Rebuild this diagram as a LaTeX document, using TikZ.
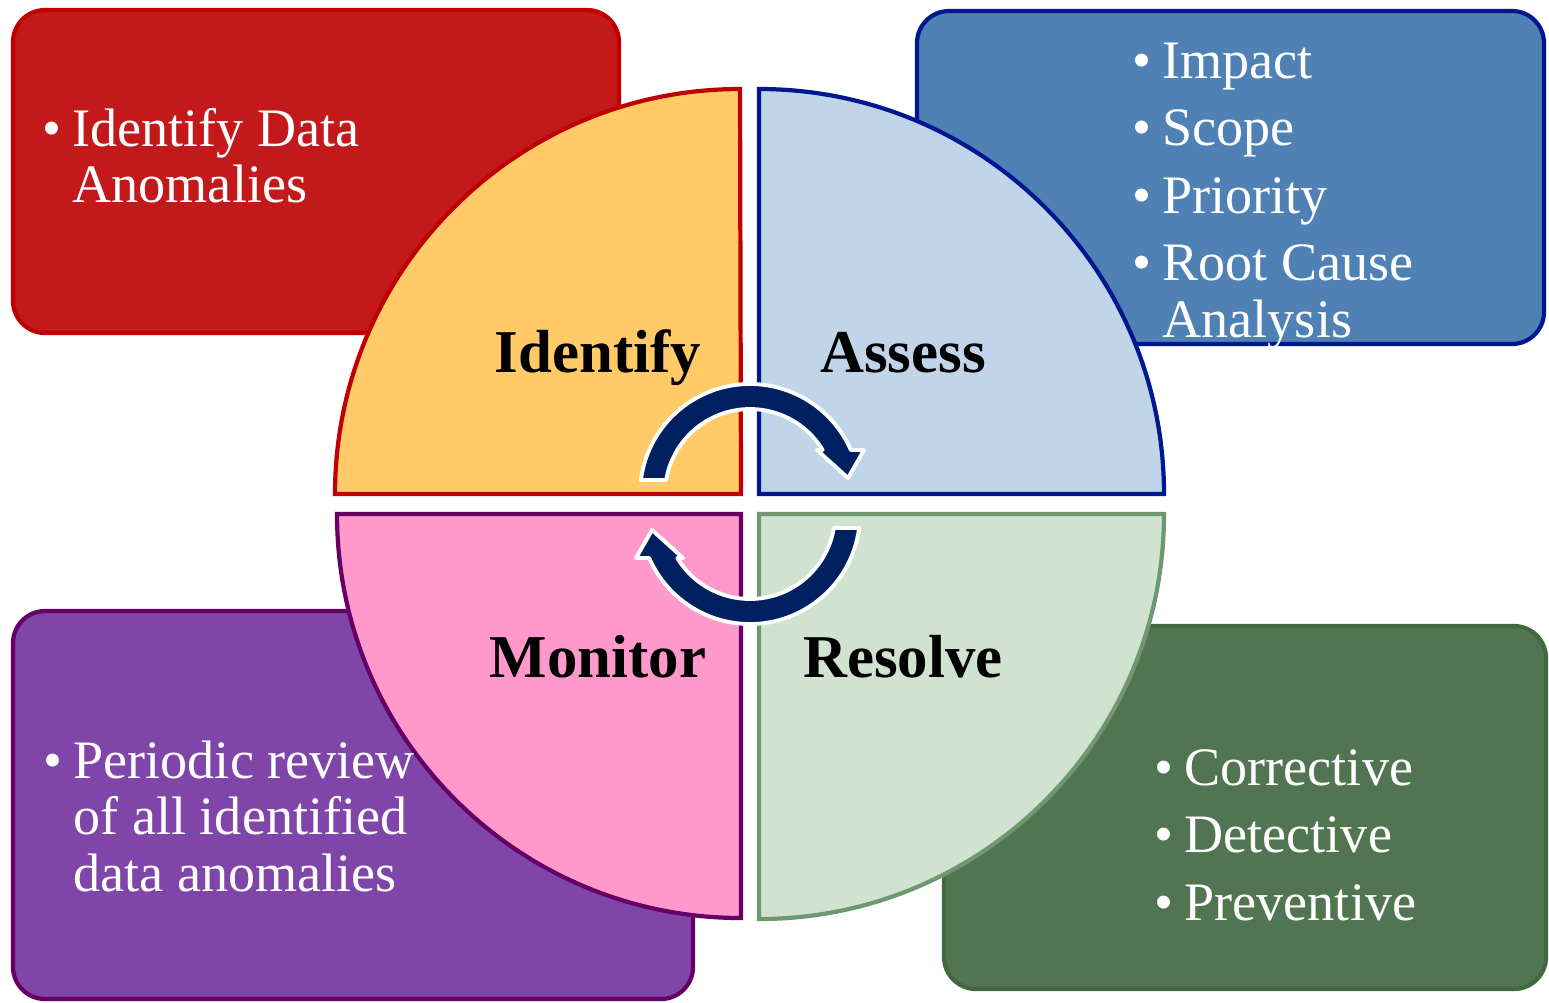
\documentclass[tikz,border=0pt]{standalone}
\usepackage{fontspec}
\setmainfont{Liberation Serif}
\definecolor{redbox}{RGB}{196,25,26}
\definecolor{redline}{RGB}{192,0,0}
\definecolor{idfill}{RGB}{255,202,103}
\definecolor{bluebox}{RGB}{79,129,181}
\definecolor{blueline}{RGB}{0,24,143}
\definecolor{asfill}{RGB}{192,213,234}
\definecolor{purplebox}{RGB}{127,69,168}
\definecolor{purpleline}{RGB}{102,0,102}
\definecolor{mofill}{RGB}{255,153,204}
\definecolor{greenbox}{RGB}{81,117,80}
\definecolor{greenline}{RGB}{66,104,63}
\definecolor{refill}{RGB}{208,227,209}
\definecolor{reline}{RGB}{111,151,112}
\definecolor{arrowblue}{RGB}{0,32,96}
\newcommand{\bul}{\makebox[8.5pt][l]{\textbullet}}
\tikzset{
  box/.style={rounded corners=0.32cm, line width=1.2pt},
  quad/.style={line width=1.2pt, line join=miter},
  lbl/.style={font=\fontsize{17.3}{19}\selectfont\bfseries, text=black, anchor=base, inner sep=0pt},
  blist/.style={text=white, anchor=base west, inner sep=0pt, font=\fontsize{15.4}{16.2}\selectfont},
  cyc/.style={fill=arrowblue, draw=white, line width=1.1pt, line join=round}
}
\begin{document}
\begin{tikzpicture}[x=0.01cm, y=-0.01cm]
\useasboundingbox (0,0) rectangle (1549,1002);
% outer boxes
\draw[box, fill=redbox, draw=redline] (13,10) rectangle (619,333);
\draw[box, fill=bluebox, draw=blueline] (917,11) rectangle (1544,344);
\draw[box, fill=purplebox, draw=purpleline] (13,611) rectangle (693,999);
\draw[box, fill=greenbox, draw=greenline] (944,626) rectangle (1546,989);
% quadrants
\draw[quad, fill=idfill, draw=redline] (741,494) -- (335,494) arc[start angle=180, end angle=270, radius=405] -- cycle;
\draw[quad, fill=asfill, draw=blueline] (759,494) -- (759,89) arc[start angle=270, end angle=360, radius=405] -- cycle;
\draw[quad, fill=mofill, draw=purpleline] (741,514) -- (741,918) arc[start angle=90, end angle=180, radius=404] -- cycle;
\draw[quad, fill=refill, draw=reline] (759,514) -- (1164,514) arc[start angle=0, end angle=90, radius=405] -- cycle;
% cycle arrows
\draw[cyc] (640.9,480) arc[start angle=187.3, end angle=336.4, radius=110]
  -- (864,450) -- (848,478) -- (817,450) -- (822.7,450)
  arc[start angle=328.8, end angle=189.5, radius=85] -- cycle;
\begin{scope}[rotate around={180:(750,504)}]
\draw[cyc] (640.9,480) arc[start angle=187.3, end angle=336.4, radius=110]
  -- (864,450) -- (848,478) -- (817,450) -- (822.7,450)
  arc[start angle=328.8, end angle=189.5, radius=85] -- cycle;
\end{scope}
% labels
\node[lbl] (identify) at (598,372) {Identify};
\node[lbl] (assess) at (903,372) {Assess};
\node[lbl] (monitor) at (598,677) {Monitor};
\node[lbl] (resolve) at (903,677) {Resolve};
% lists
\node[blist] (redtext) at (42,146) {\begin{tabular}[t]{@{}l@{}l@{}}\bul&Identify Data\\ &Anomalies\end{tabular}};
\node[blist] (bluetext) at (1132,78) {\begin{tabular}[t]{@{}l@{}l@{}}\bul&Impact\\[3pt] \bul&Scope\\[3pt] \bul&Priority\\[3pt] \bul&Root Cause\\ &Analysis\end{tabular}};
\node[blist] (purpletext) at (43,778) {\begin{tabular}[t]{@{}l@{}l@{}}\bul&Periodic review\\ &of all identified\\ &data anomalies\end{tabular}};
\node[blist] (greentext) at (1154,785) {\begin{tabular}[t]{@{}l@{}l@{}}\bul&Corrective\\[3pt] \bul&Detective\\[3pt] \bul&Preventive\end{tabular}};
\end{tikzpicture}
\end{document}
